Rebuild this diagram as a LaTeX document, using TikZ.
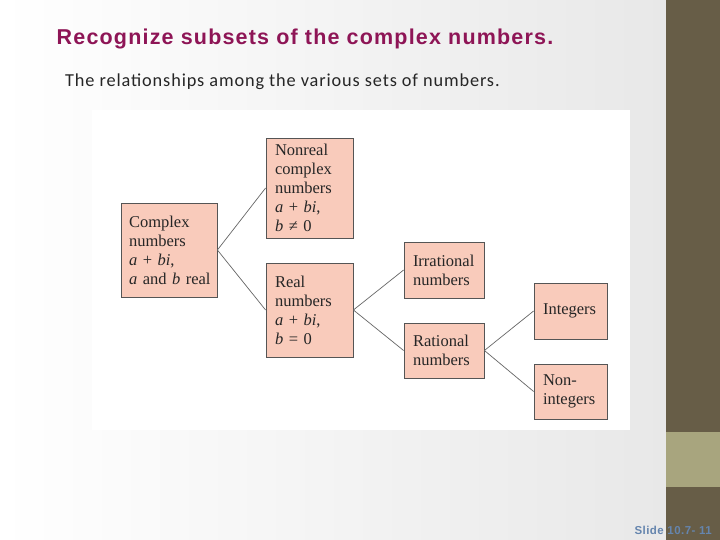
\documentclass[tikz,border=0pt]{standalone}
\usepackage{fontspec}
\setmainfont{Liberation Serif}
\newfontfamily\titlefont{Liberation Sans}
\newfontfamily\subfont{Carlito}
\definecolor{sidebar}{HTML}{675D47}
\definecolor{band}{HTML}{A8A57E}
\definecolor{boxfill}{HTML}{F9CBBB}
\definecolor{boxline}{HTML}{555555}
\definecolor{titlecol}{HTML}{8E1556}
\definecolor{slidecol}{HTML}{6585AE}
\begin{document}
\begin{tikzpicture}[x=1pt,y=-1pt,
  setbox/.style={draw=boxline,line width=0.8pt,fill=boxfill,rectangle,
    inner sep=0pt,align=left,font=\fontsize{16.5}{19}\selectfont,text=black!85},
  link/.style={draw=boxline!90,line width=0.7pt}]
\useasboundingbox (0,0) rectangle (720,540);
\shade[left color=white,right color=black!9] (0,0) rectangle (666,540);
\fill[sidebar] (666,0) rectangle (720,540);
\fill[band] (666,432) rectangle (720,487);
\fill[white] (92,110) rectangle (630,430);
\node[anchor=base west,inner sep=0pt,text=titlecol,font=\titlefont\bfseries\fontsize{21.5}{24}\selectfont\addfontfeature{LetterSpace=5.5}] (title) at (56.5,44.5) {Recognize subsets of the complex numbers.};
\node[anchor=base west,inner sep=0pt,text=black!85,font=\subfont\fontsize{18.3}{22}\selectfont\addfontfeature{LetterSpace=4.8}] (sub) at (65,87) {The relationships among the various sets of numbers.};
\node[setbox,minimum width=96pt,minimum height=94pt,text width=80pt] (cx) at (169,250) {Complex\\numbers\\\textit{a} + \textit{bi},\\\textit{a}~and~\textit{b}~real};
\node[setbox,minimum width=87pt,minimum height=100pt,text width=69pt] (nr) at (309.5,188) {Nonreal\\complex\\numbers\\\textit{a} + \textit{bi},\\\textit{b} ≠ 0};
\node[setbox,minimum width=87pt,minimum height=94pt,text width=69pt] (re) at (309.5,310) {Real\\numbers\\\textit{a} + \textit{bi},\\\textit{b} = 0};
\node[setbox,minimum width=80pt,minimum height=56pt,text width=62pt] (ir) at (444,270) {Irrational\\numbers};
\node[setbox,minimum width=80pt,minimum height=55pt,text width=62pt] (ra) at (444,350.5) {Rational\\numbers};
\node[setbox,minimum width=73pt,minimum height=56pt,text width=55pt] (in) at (570.5,311) {Integers};
\node[setbox,minimum width=73pt,minimum height=55pt,text width=55pt] (ni) at (570.5,391.5) {Non-\\integers};
\draw[link] (cx.east) -- (nr.west);
\draw[link] (cx.east) -- (re.west);
\draw[link] (re.east) -- (ir.west);
\draw[link] (re.east) -- (ra.west);
\draw[link] (ra.east) -- (in.west);
\draw[link] (ra.east) -- (ni.west);
\node[anchor=base east,inner sep=0pt,text=slidecol,font=\titlefont\bfseries\fontsize{11.5}{13}\selectfont\addfontfeature{LetterSpace=4}] (num) at (712,534) {Slide 10.7- 11};
\end{tikzpicture}
\end{document}
